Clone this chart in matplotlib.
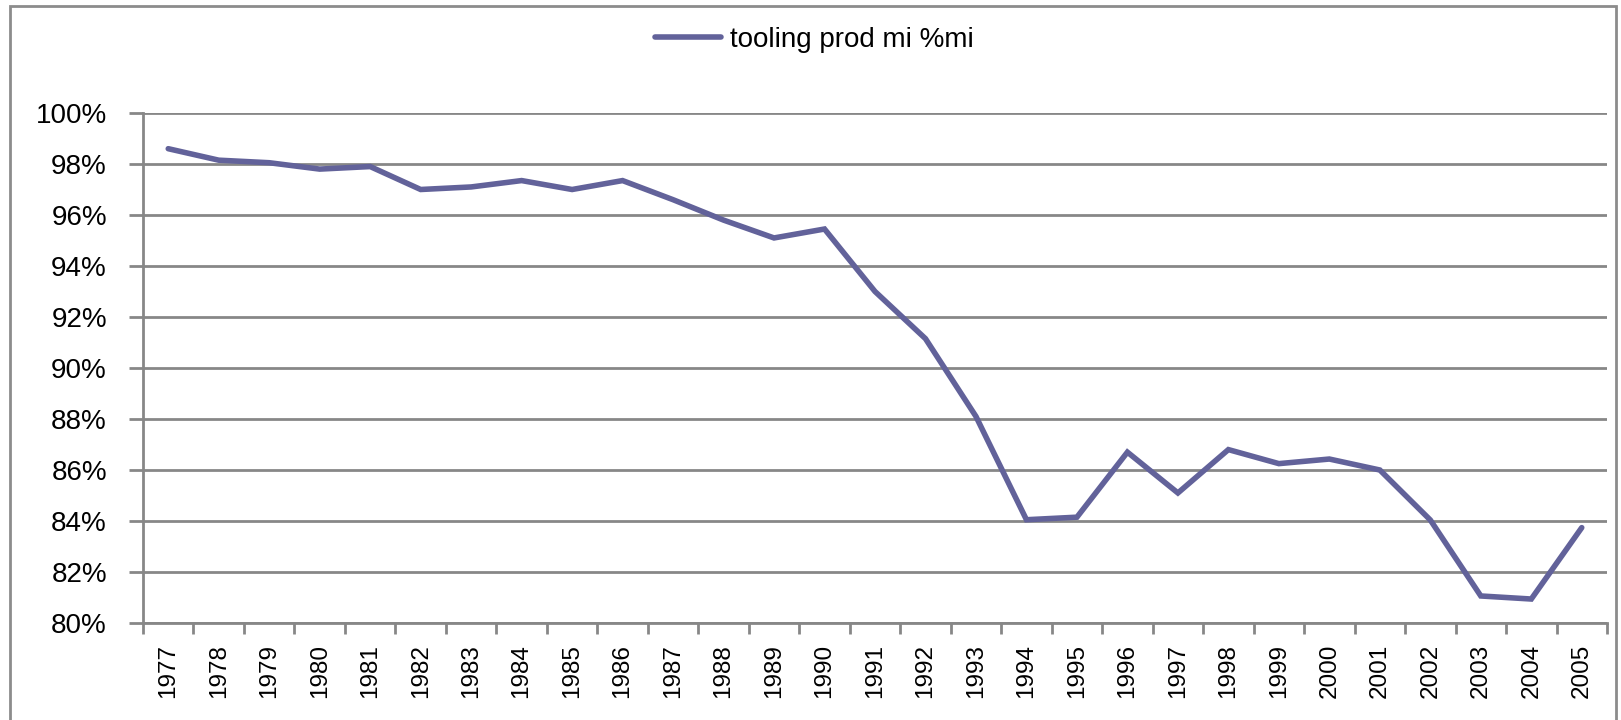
import matplotlib
matplotlib.use("Agg")
import matplotlib.pyplot as plt
from matplotlib.ticker import FixedLocator, FuncFormatter
from matplotlib.patches import Rectangle

plt.rcParams['font.family'] = ['Liberation Sans', 'DejaVu Sans']

years = [str(y) for y in range(1977, 2006)]
values = [98.6, 98.15, 98.05, 97.8, 97.9, 97.0, 97.1, 97.35, 97.0, 97.35,
          96.6, 95.8, 95.1, 95.45, 93.0, 91.15, 88.1, 84.05, 84.15, 86.7,
          85.1, 86.8, 86.25, 86.43, 86.0, 84.04, 81.06, 80.94, 83.74]
series_name = "tooling prod mi %mi"
y_ticks = [80, 82, 84, 86, 88, 90, 92, 94, 96, 98, 100]

W, H = 1621, 720
fig = plt.figure(figsize=(W / 100, H / 100), dpi=100)
fig.patch.set_facecolor('white')

# outer frame
fig.patches.append(Rectangle((10 / W, -0.05), (1616 - 10) / W, 1.05 - 6 / H,
                             transform=fig.transFigure, fill=False,
                             edgecolor='#8c8c8c', linewidth=2))

ax = fig.add_axes([143 / W, 1 - 623 / H, (1607 - 143) / W, (623 - 113) / H])
x = list(range(len(years)))
line, = ax.plot(x, values, color='#62629a', linewidth=4,
                solid_joinstyle='miter', solid_capstyle='round', label=series_name)

ax.set_xlim(-0.5, len(years) - 0.5)
ax.set_ylim(80, 100)

grid_c = '#878787'
ax.set_yticks(y_ticks)
ax.yaxis.set_major_formatter(FuncFormatter(lambda v, p: f"{int(v)}%"))
ax.grid(axis='y', color=grid_c, linewidth=2)
ax.set_axisbelow(True)

ax.set_xticks(x)
ax.set_xticklabels(years, rotation=90, fontsize=17.5)
ax.xaxis.set_minor_locator(FixedLocator([i - 0.5 for i in range(len(years) + 1)]))
ax.tick_params(axis='x', which='major', length=0, pad=15)
ax.tick_params(axis='x', which='minor', length=8, width=2, color=grid_c, direction='out')
ax.tick_params(axis='y', which='major', length=10, width=2, color=grid_c,
               direction='out', labelsize=20, pad=16)

for s in ['top', 'right']:
    ax.spines[s].set_visible(False)
for s in ['left', 'bottom']:
    ax.spines[s].set_color(grid_c)
    ax.spines[s].set_linewidth(2)

leg = fig.legend(handles=[line], loc='center', bbox_to_anchor=(814 / W, 1 - 40 / H),
                 frameon=False, fontsize=20, handlelength=2.4, handletextpad=0.3)

fig.savefig('out.png', dpi=100, facecolor='white')
